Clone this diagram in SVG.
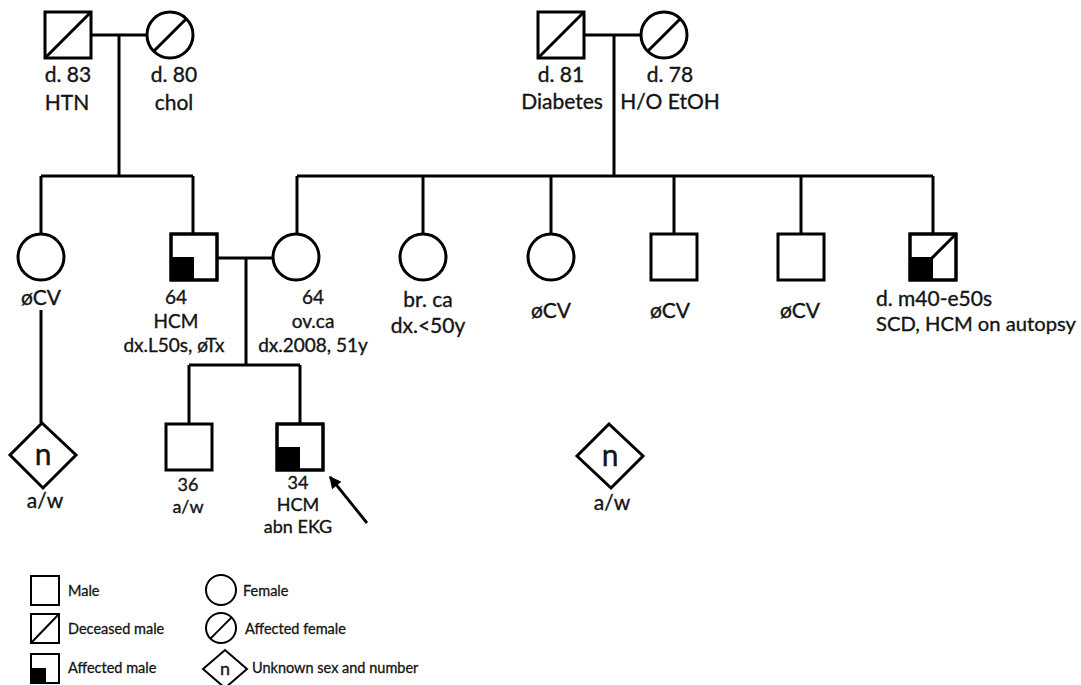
<svg xmlns="http://www.w3.org/2000/svg" width="1081" height="685" viewBox="0 0 1081 685">
<defs>
<style>
.s{fill:#fff;stroke:#000;stroke-width:3}
.l{fill:none;stroke:#000;stroke-width:3}
.lg{fill:#fff;stroke:#000;stroke-width:2}
.lgl{fill:none;stroke:#000;stroke-width:2}
.f{fill:#000}
text{font-family:Lato,"Open Sans","Liberation Sans",sans-serif;fill:#141414;stroke:#141414;stroke-width:0.35px}
.b{font-size:21px}
.m{font-size:18px}
.p{font-size:19px}
.c{text-anchor:middle}
.n{font-size:30px}
.lt{font-size:14.5px;stroke-width:0.3px}
</style>
<marker id="ah" viewBox="0 0 10 10" refX="9" refY="5" markerWidth="15" markerHeight="12" markerUnits="userSpaceOnUse" orient="auto"><path d="M0,0 L10,5 L0,10 z" fill="#000"/></marker>
</defs>
<rect width="1081" height="685" fill="#fff"/>
<g id="connectors">
<path class="l" d="M91,35 H147 M119,35 V176 M41,176 H193 M41,176 V234 M193,176 V234"/>
<path class="l" d="M584,35 H641 M614,35 V176 M297,176 H933 M297,176 V234 M423,176 V234 M551,176 V234 M674,176 V234 M801,176 V234 M933,176 V234"/>
<path class="l" d="M217,258 H273 M246,258 V365 M189,365 H300 M189,365 V424 M300,365 V424"/>
<path class="l" d="M41,310 V423"/>
<line x1="367" y1="523" x2="330" y2="477" stroke="#000" stroke-width="2.8" marker-end="url(#ah)"/>
</g>
<g id="gf-left"><rect class="s" x="45" y="12" width="46" height="46"/><line class="l" x1="45" y1="58" x2="91" y2="12"/><text class="b c" x="68" y="82">d. 83</text><text class="b c" x="67" y="110">HTN</text></g>
<g id="gm-left"><circle class="s" cx="170" cy="35" r="23"/><line class="l" x1="153.7" y1="51.3" x2="186.3" y2="18.7"/><text class="b c" x="174" y="82">d. 80</text><text class="b c" x="174" y="110">chol</text></g>
<g id="gf-right"><rect class="s" x="538" y="12" width="46" height="46"/><line class="l" x1="538" y1="58" x2="584" y2="12"/><text class="b c" x="561" y="82">d. 81</text><text class="b c" x="562" y="109">Diabetes</text></g>
<g id="gm-right"><circle class="s" cx="664" cy="35" r="23"/><line class="l" x1="647.7" y1="51.3" x2="680.3" y2="18.7"/><text class="b c" x="670" y="82">d. 78</text><text class="b c" x="670" y="109">H/O EtOH</text></g>
<g id="aunt"><circle class="s" cx="41" cy="257" r="23"/><text class="b c" x="41" y="305">øCV</text></g>
<g id="father"><rect class="s" x="171" y="234" width="46" height="46"/><rect class="f" x="171" y="257" width="23" height="23"/><rect class="l" x="171" y="234" width="46" height="46"/><text class="p c" x="176" y="304">64</text><text class="p c" x="176" y="328">HCM</text><text class="p c" x="174" y="352">dx.L50s, øTx</text></g>
<g id="mother"><circle class="s" cx="296" cy="257" r="23"/><text class="p c" x="313" y="304">64</text><text class="p c" x="313" y="328">ov.ca</text><text class="p c" x="313" y="352">dx.2008, 51y</text></g>
<g id="aunt-brca"><circle class="s" cx="423" cy="257" r="23"/><text class="b c" x="428" y="307">br. ca</text><text class="b c" x="428" y="333">dx.&lt;50y</text></g>
<g id="aunt-cv"><circle class="s" cx="551" cy="257" r="23"/><text class="b c" x="551" y="318">øCV</text></g>
<g id="uncle1"><rect class="s" x="651" y="234" width="46" height="46"/><text class="b c" x="670" y="318">øCV</text></g>
<g id="uncle2"><rect class="s" x="778" y="234" width="46" height="46"/><text class="b c" x="800" y="318">øCV</text></g>
<g id="uncle3"><rect class="s" x="910" y="234" width="46" height="46"/><line class="l" x1="910" y1="280" x2="956" y2="234"/><rect class="f" x="910" y="257" width="23" height="23"/><rect class="l" x="910" y="234" width="46" height="46"/><text class="b" x="876" y="306">d. m40-e50s</text><text class="b" x="876" y="331" style="font-size:20px" textLength="200" lengthAdjust="spacingAndGlyphs">SCD, HCM on autopsy</text></g>
<g id="cousins-left"><polygon class="s" points="42,423 76,455 43,488 10,455"/><text class="n c" x="43" y="465">n</text><text class="b c" x="45" y="508">a/w</text></g>
<g id="son36"><rect class="s" x="166" y="424" width="46" height="46"/><text class="m c" x="188" y="491">36</text><text class="m c" x="188" y="513">a/w</text></g>
<g id="son34"><rect class="s" x="277" y="424" width="46" height="46"/><rect class="f" x="277" y="447" width="23" height="23"/><rect class="l" x="277" y="424" width="46" height="46"/><text class="m c" x="298" y="489">34</text><text class="m c" x="298" y="511">HCM</text><text class="m c" x="298" y="533">abn EKG</text></g>
<g id="cousins-right"><polygon class="s" points="609,424 643,456 611,488 577,456"/><text class="n c" x="610" y="466">n</text><text class="b c" x="612" y="510">a/w</text></g>
<g id="legend">
<rect class="lg" x="31" y="576" width="28" height="29"/><text class="lt" x="68" y="596">Male</text>
<rect class="lg" x="31" y="614" width="28" height="29"/><line class="lgl" x1="31" y1="643" x2="59" y2="614"/><text class="lt" x="68" y="634">Deceased male</text>
<rect class="lg" x="31" y="654" width="28" height="29"/><rect class="f" x="31" y="668" width="15" height="15"/><rect class="lgl" x="31" y="654" width="28" height="29"/><text class="lt" x="68" y="673">Affected male</text>
<circle class="lg" cx="221" cy="590" r="15"/><text class="lt" x="243" y="596">Female</text>
<circle class="lg" cx="221" cy="628" r="15"/><line class="lgl" x1="210.4" y1="638.6" x2="231.6" y2="617.4"/><text class="lt" x="245" y="634">Affected female</text>
<polygon class="lg" points="203,669 225,650 247,669 225,688"/><text class="c" style="font-size:18px" x="225" y="675">n</text><text class="lt" x="252" y="673">Unknown sex and number</text>
</g>
</svg>
